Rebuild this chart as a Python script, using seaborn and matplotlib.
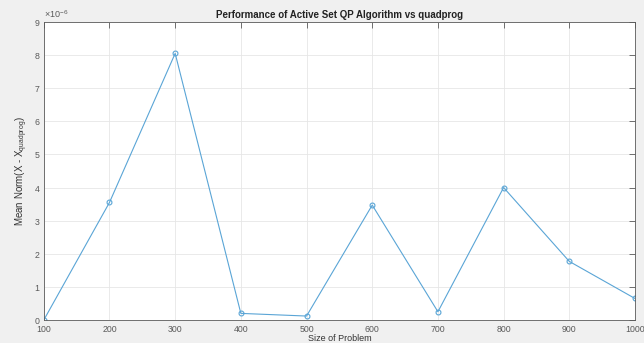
import matplotlib
matplotlib.use("Agg")
import matplotlib.pyplot as plt
import matplotlib.ticker as mticker
import pandas as pd
import seaborn as sns

# problem sizes and mean norm difference vs quadprog (units of 1e-6)
problem_size = [100, 200, 300, 400, 500, 600, 700, 800, 900, 1000]
mean_norm_e6 = [0.0, 3.55, 8.05, 0.20, 0.12, 3.47, 0.25, 4.00, 1.77, 0.65]

df = pd.DataFrame({"size": problem_size, "norm": [v * 1e-6 for v in mean_norm_e6]})

sns.set_style("whitegrid")
plt.rcParams["font.family"] = ["Liberation Sans", "DejaVu Sans"]
plt.rcParams["mathtext.fontset"] = "custom"
plt.rcParams["mathtext.rm"] = "Liberation Sans"
plt.rcParams["mathtext.it"] = "Liberation Sans"

AX_COLOR = "#5a5a5a"
LINE_COLOR = "#5aa5d6"
fig = plt.figure(figsize=(6.44, 3.43), dpi=100, facecolor="#f0f0f0")
ax = fig.add_axes([0.068, 0.067, 0.918, 0.869])
ax.set_facecolor("white")

sns.lineplot(data=df, x="size", y="norm", ax=ax, color=LINE_COLOR, linewidth=0.8,
             marker="o", markersize=3.5, markerfacecolor="none",
             markeredgecolor=LINE_COLOR, markeredgewidth=0.8)

ax.set_xlim(100, 1000)
ax.set_ylim(0, 9e-6)
ax.xaxis.set_major_locator(mticker.MultipleLocator(100))
ax.yaxis.set_major_locator(mticker.MultipleLocator(1e-6))
fmt = mticker.ScalarFormatter(useMathText=True)
fmt.set_powerlimits((-3, 3))
ax.yaxis.set_major_formatter(fmt)
ax.yaxis.get_offset_text().set_fontsize(6.5)
ax.yaxis.get_offset_text().set_color(AX_COLOR)

ax.grid(True, color="#e6e6e6", linewidth=0.6)
ax.tick_params(direction="in", length=4, width=0.6, colors=AX_COLOR, labelsize=6.3,
               top=True, right=True)
ax.tick_params(axis="x", pad=3.5)
ax.tick_params(axis="y", pad=2.5)
for s in ax.spines.values():
    s.set_color(AX_COLOR)
    s.set_linewidth(0.6)

ax.set_title("Performance of Active Set QP Algorithm vs quadprog",
             fontsize=7, fontweight="bold", color="#222222", pad=3)
ax.set_xlabel("Size of Problem", fontsize=6.5, color="#333333", labelpad=0)
ax.set_ylabel(r"Mean Norm(X - X$_{\mathrm{quadprog}}$)", fontsize=7, color="#333333", labelpad=3)

fig.savefig("out.png", dpi=100, facecolor=fig.get_facecolor())
